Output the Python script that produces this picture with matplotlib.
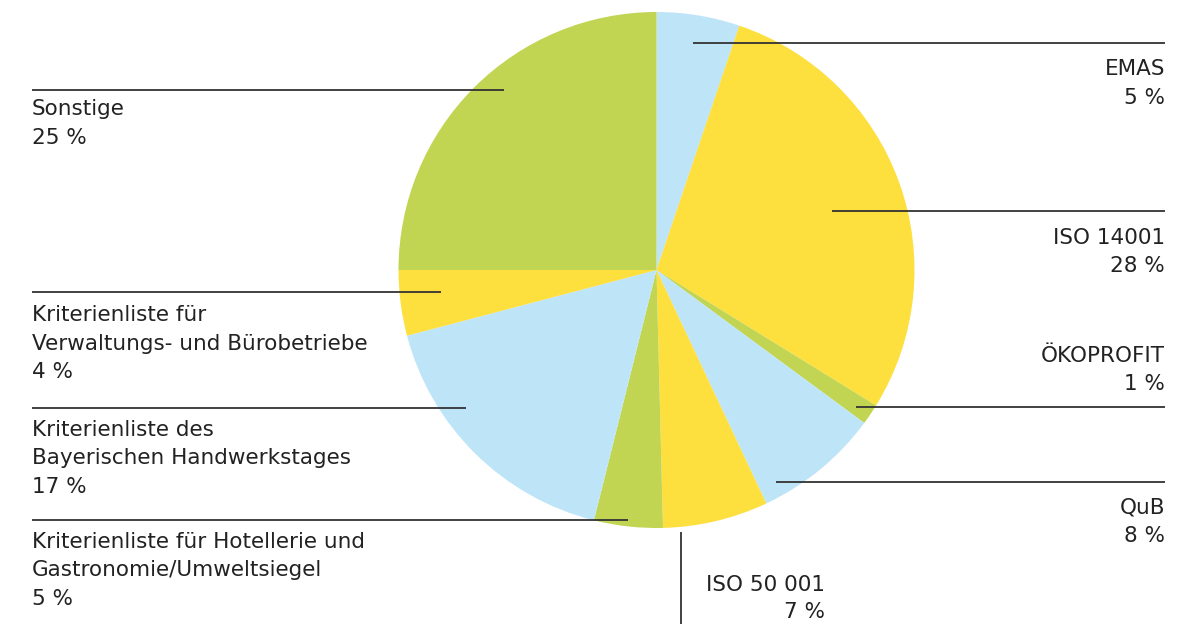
import matplotlib
matplotlib.use("Agg")
import matplotlib.pyplot as plt

# ---- data ----
categories = ["EMAS", "ISO 14001", "ÖKOPROFIT", "QuB", "ISO 50 001",
              "Kriterienliste für Hotellerie und\nGastronomie/Umweltsiegel",
              "Kriterienliste des\nBayerischen Handwerkstages",
              "Kriterienliste für\nVerwaltungs- und Bürobetriebe",
              "Sonstige"]
shares = [5.2, 28.6, 1.3, 7.9, 6.6, 4.3, 17.0, 4.1, 25.0]
share_labels = ["5 %", "28 %", "1 %", "8 %", "7 %", "5 %", "17 %", "4 %", "25 %"]

BLUE, YELLOW, GREEN = "#bee4f8", "#fddf3e", "#c1d553"
colors = [BLUE, YELLOW, GREEN, BLUE, YELLOW, GREEN, BLUE, YELLOW, GREEN]

W, H = 1186, 624
fig = plt.figure(figsize=(W / 100, H / 100), dpi=100)
ax = fig.add_axes([0, 0, 1, 1])

cx, cy, r = 656.5, H - 270, 258
ax.pie(shares, colors=colors, startangle=90, counterclock=False,
       center=(cx, cy), radius=r, wedgeprops=dict(linewidth=0),
       frame=True)
ax.set_xlim(0, W)
ax.set_ylim(0, H)
ax.set_aspect("equal")
ax.axis("off")

LC = "#333333"
TC = "#222222"
FONT = "DejaVu Sans"
FS = 15.5
LS = 28.5

def y(p):
    return H - p

# layout: (line x0, line x1, line y, text x, first text y, ha)
layout = {
    0: (693, 1165, 43, 1165, 69, "right"),
    1: (832, 1165, 211, 1165, 238, "right"),
    2: (856, 1165, 407, 1165, 356, "right"),
    3: (776, 1165, 482, 1165, 508, "right"),
    5: (32, 628, 520, 32, 542, "left"),
    6: (32, 466, 408, 32, 430, "left"),
    7: (32, 441, 292, 32, 315, "left"),
    8: (32, 504, 90, 32, 109, "left"),
}

for i, (x0, x1, ly, tx, ty, ha) in layout.items():
    ax.plot([x0, x1], [y(ly), y(ly)], color=LC, lw=1.3, solid_capstyle="butt")
    lines = categories[i].split("\n") + [share_labels[i]]
    for k, t in enumerate(lines):
        ax.text(tx, y(ty + k * LS), t, ha=ha, va="center", fontsize=FS,
                family=FONT, color=TC)

# ISO 50 001: vertical leader
ax.plot([681, 681], [y(532), y(624)], color=LC, lw=1.3, solid_capstyle="butt")
ax.text(825, y(585), categories[4], ha="right", va="center", fontsize=FS,
        family=FONT, color=TC)
ax.text(825, y(585 + 27), share_labels[4], ha="right", va="center", fontsize=FS,
        family=FONT, color=TC)

fig.savefig("out.png", dpi=100)
